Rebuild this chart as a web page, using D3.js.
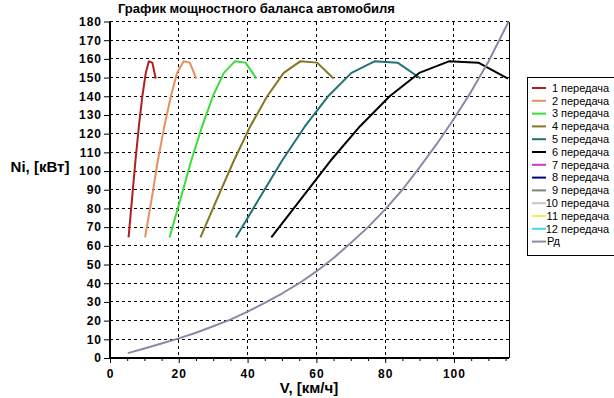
<!DOCTYPE html>
<html>
<head>
<meta charset="utf-8">
<script src="https://cdn.jsdelivr.net/npm/d3@7"></script>
<style>
  body { margin: 0; background: #fff; }
  text { font-family: "Liberation Sans", Arial, sans-serif; }
</style>
</head>
<body>
<svg class="svg"></svg>
<script>
// power of the engine at 9 rpm points (same for every gear), kW
const enginePower = [64.5, 85, 105.5, 124, 140, 152.5, 158.7, 158, 149.5]

// vehicle speed at those rpm points, km/h, one row per gear
const gearSpeeds = [
  [5.4, 6.4, 7.4, 8.4, 9.4, 10.4, 11.3, 12.3, 13.3],
  [10.2, 12.1, 13.9, 15.8, 17.7, 19.5, 21.4, 23.2, 25.1],
  [17.3, 20.5, 23.6, 26.8, 29.9, 33.1, 36.3, 39.4, 42.6],
  [26.3, 31.1, 36.0, 40.8, 45.7, 50.5, 55.3, 60.2, 65.0],
  [36.6, 43.3, 50.0, 56.7, 63.4, 70.2, 76.9, 83.6, 90.3],
  [46.9, 55.5, 64.1, 72.7, 81.3, 89.9, 98.5, 107.1, 115.7]
]

// resistance power Рд
const pdSpeed = [5.2, 10, 15, 20, 25, 30, 35, 40, 45, 50, 55, 60, 65, 70, 75, 80, 85, 90, 95, 100, 105, 110, 115.9]
const pdPower = [2.6, 5.1, 7.8, 10.5, 13.5, 17, 20.5, 24.8, 29.5, 34.5, 40, 46.3, 53.5, 61.5, 70, 79.5, 90, 102, 114.5, 128, 142.5, 158.5, 180]

const legendLabels = ["1", "2", "3", "4", "5", "6", "7", "8", "9", "10", "11", "12"]
const legendColors = ["#b02020", "#e8905c", "#3cdc3c", "#857520", "#1f7373", "#000000",
  "#c83cc8", "#000088", "#808080", "#c8c8c8", "#f0f060", "#40d8f0"]
const pdColor = "#8a8aa6"

const xTicks = [0, 20, 40, 60, 80, 100]
const yTicks = d3.range(0, 181, 10)

const metrics = { width: 614, height: 398 }

const svg = d3.select(".svg")
  .attr("width", metrics.width)
  .attr("height", metrics.height)

const x = d3.scaleLinear().domain([0, 116]).range([110, 509])
const y = d3.scaleLinear().domain([0, 180]).range([358, 21.5])

const g = svg.append("g")

// grid
g.selectAll("line.hgrid")
  .data(yTicks.filter(d => d > 0))
  .join("line")
  .attr("class", "hgrid")
  .attr("x1", x(0)).attr("x2", x(116))
  .attr("y1", d => y(d)).attr("y2", d => y(d))
  .attr("stroke", "#000").attr("stroke-width", 1)
  .attr("stroke-dasharray", "3,3")
  .attr("shape-rendering", "crispEdges")

g.selectAll("line.vgrid")
  .data(xTicks.filter(d => d > 0))
  .join("line")
  .attr("class", "vgrid")
  .attr("x1", d => x(d)).attr("x2", d => x(d))
  .attr("y1", y(180)).attr("y2", y(0))
  .attr("stroke", "#000").attr("stroke-width", 1)
  .attr("stroke-dasharray", "3,3")
  .attr("shape-rendering", "crispEdges")

// right frame
g.append("line")
  .attr("x1", x(116)).attr("x2", x(116))
  .attr("y1", y(180)).attr("y2", y(0))
  .attr("stroke", "#000")
  .attr("shape-rendering", "crispEdges")

// axes
const yAxis = g.append("g")
  .attr("transform", `translate(${x(0)},0)`)
  .call(d3.axisLeft(y).tickValues(yTicks).tickSize(6).tickPadding(2))
const xAxis = g.append("g")
  .attr("transform", `translate(0,${y(0)})`)
  .call(d3.axisBottom(x).tickValues(xTicks).tickSize(5).tickPadding(6))

g.append("g")
  .attr("transform", `translate(0,${y(0)})`)
  .call(d3.axisBottom(x).tickValues(d3.range(5, 116, 5).filter(d => d % 20 !== 0)).tickSize(3).tickFormat(""))
  .call(a => a.select(".domain").remove())

for (const ax of [yAxis, xAxis]) {
  ax.select(".domain").attr("stroke-width", 2)
  ax.selectAll("text")
    .attr("fill", "#000")
    .style("font-size", "12px")
    .style("font-weight", "bold")
    .style("letter-spacing", "1px")
}
xAxis.select(".domain").attr("d", `M${x(0)},0H${x(116)}`)
yAxis.select(".domain").attr("d", `M0,${y(0) + 1}V${y(180)}`)

// curves
const line = d3.line()
  .x(d => x(d[0]))
  .y(d => y(d[1]))

g.selectAll("path.gear")
  .data(gearSpeeds)
  .join("path")
  .attr("class", "gear")
  .attr("d", (d) => line(d.map((v, i) => [v, enginePower[i]])))
  .attr("fill", "none")
  .attr("stroke", (d, i) => legendColors[i])
  .attr("stroke-width", 2)
  .attr("stroke-linejoin", "round")

g.append("path")
  .attr("d", line(pdSpeed.map((v, i) => [v, pdPower[i]])))
  .attr("fill", "none")
  .attr("stroke", pdColor)
  .attr("stroke-width", 2)
  .attr("stroke-linejoin", "round")

// titles
svg.append("text")
  .attr("x", 118).attr("y", 13)
  .style("font-size", "13px").style("font-weight", "bold")
  .text("График мощностного баланса автомобиля")

svg.append("text")
  .attr("x", 40).attr("y", 172)
  .attr("text-anchor", "middle")
  .style("font-size", "15px").style("font-weight", "bold")
  .text("Ni, [кВт]")

svg.append("text")
  .attr("x", 309).attr("y", 393)
  .attr("text-anchor", "middle")
  .style("font-size", "15px").style("font-weight", "bold")
  .text("V, [км/ч]")

// legend
const legend = svg.append("g").attr("transform", "translate(527,77)")
legend.append("rect")
  .attr("x", 0.5).attr("y", 0.5)
  .attr("width", 100).attr("height", 178)
  .attr("fill", "#fff").attr("stroke", "#000")

const items = legendLabels.map((l, i) => ({ num: l, label: " передача", color: legendColors[i] }))
items.push({ num: "", label: "Рд", color: pdColor })

const item = legend.selectAll("g.item")
  .data(items)
  .join("g")
  .attr("class", "item")
  .attr("transform", (d, i) => `translate(0,${11 + i * 12.8})`)

item.append("line")
  .attr("x1", 5).attr("x2", 19)
  .attr("stroke", d => d.color).attr("stroke-width", 2)

item.append("text")
  .attr("x", 31).attr("dy", "0.35em")
  .attr("text-anchor", "end")
  .style("font-size", "11px")
  .text(d => d.num)

item.append("text")
  .attr("x", d => d.num ? 31 : 20).attr("dy", "0.35em")
  .style("font-size", "11px")
  .text(d => d.num ? "передача" : d.label)
  .attr("dx", d => d.num ? 3 : 0)
</script>
</body>
</html>
